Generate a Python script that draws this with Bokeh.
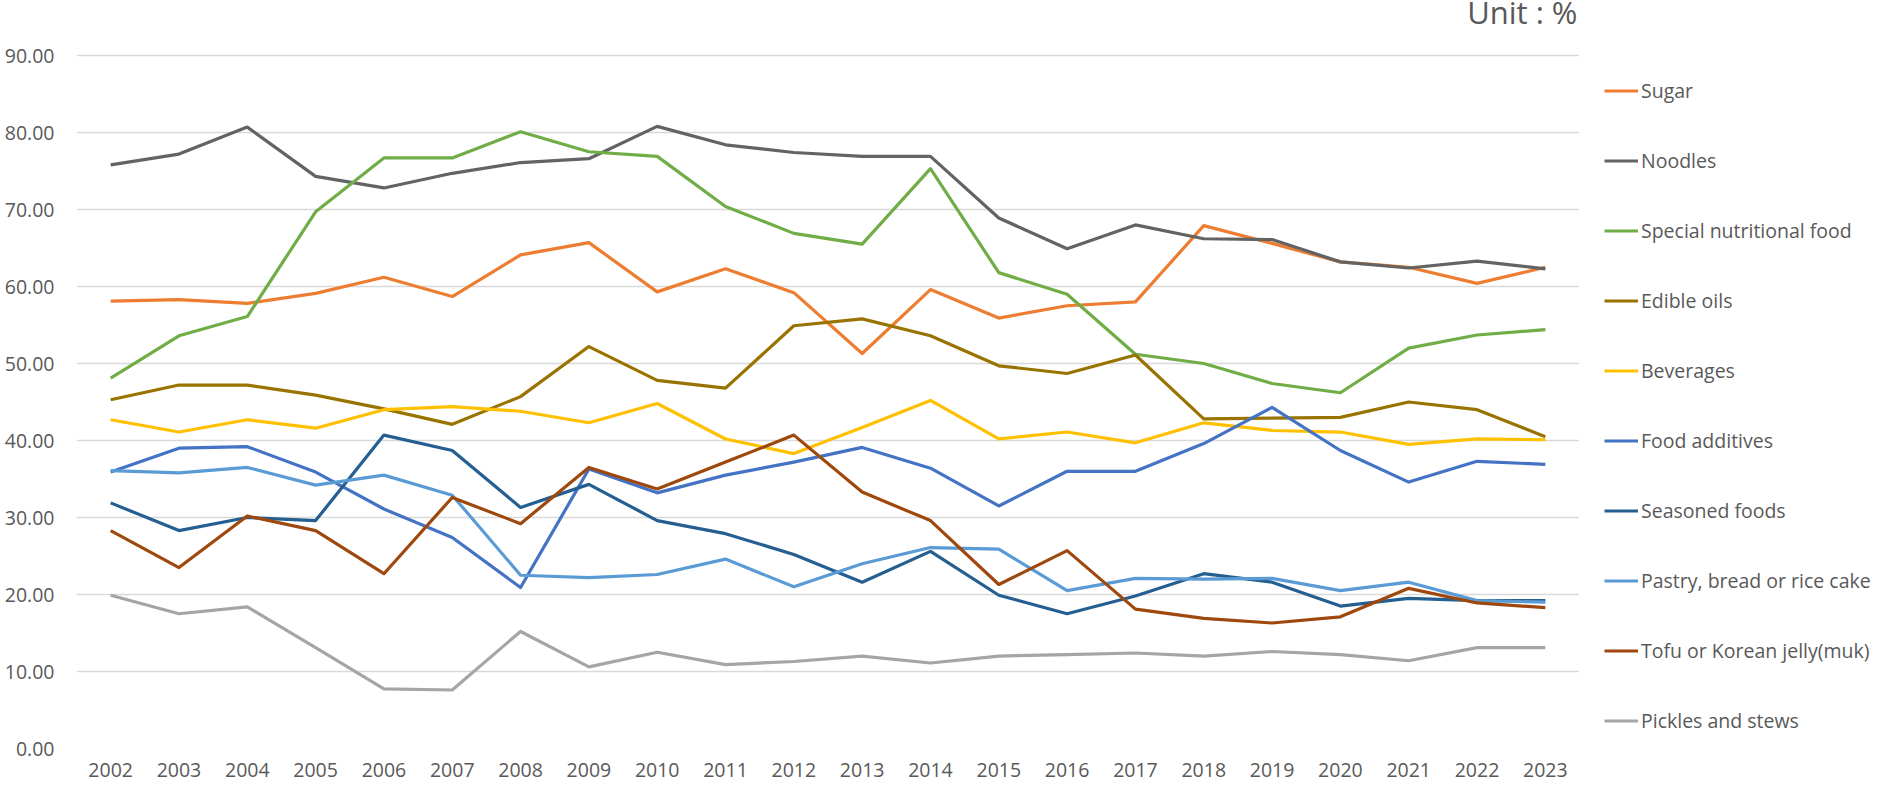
from bokeh.plotting import figure
from bokeh.layouts import row
from bokeh.models import (FactorRange, FixedTicker, NumeralTickFormatter, Legend,
                          LegendItem, Label, Range1d)
from bokeh.embed import file_html
from bokeh.resources import INLINE

years = [str(y) for y in range(2002, 2024)]

sugar = [58.1, 58.3, 57.8, 59.1, 61.2, 58.7, 64.1, 65.7, 59.3, 62.3, 59.2, 51.3,
         59.6, 55.9, 57.5, 58.0, 67.9, 65.6, 63.2, 62.5, 60.4, 62.5]
noodles = [75.8, 77.2, 80.7, 74.3, 72.8, 74.7, 76.1, 76.6, 80.8, 78.4, 77.4, 76.9,
           76.9, 68.9, 64.9, 68.0, 66.2, 66.1, 63.2, 62.4, 63.3, 62.3]
special = [48.1, 53.6, 56.1, 69.7, 76.7, 76.7, 80.1, 77.5, 76.9, 70.4, 66.9, 65.5,
           75.3, 61.8, 59.0, 51.2, 50.0, 47.4, 46.2, 52.0, 53.7, 54.4]
edible_oils = [45.3, 47.2, 47.2, 45.9, 44.1, 42.1, 45.7, 52.2, 47.8, 46.8, 54.9, 55.8,
               53.6, 49.7, 48.7, 51.1, 42.8, 42.9, 43.0, 45.0, 44.0, 40.5]
beverages = [42.7, 41.1, 42.7, 41.6, 44.0, 44.4, 43.8, 42.3, 44.8, 40.2, 38.3, 41.7,
             45.2, 40.2, 41.1, 39.7, 42.3, 41.3, 41.1, 39.5, 40.2, 40.1]
food_additives = [35.9, 39.0, 39.2, 35.9, 31.1, 27.4, 20.9, 36.3, 33.2, 35.5, 37.2, 39.1,
                  36.4, 31.5, 36.0, 36.0, 39.6, 44.3, 38.7, 34.6, 37.3, 36.9]
seasoned = [31.9, 28.3, 30.0, 29.6, 40.7, 38.7, 31.3, 34.3, 29.6, 27.9, 25.2, 21.6,
            25.6, 19.9, 17.5, 19.8, 22.7, 21.6, 18.5, 19.5, 19.2, 19.2]
pastry = [36.1, 35.8, 36.5, 34.2, 35.5, 32.9, 22.5, 22.2, 22.6, 24.6, 21.0, 24.0,
          26.1, 25.9, 20.5, 22.1, 22.0, 22.1, 20.5, 21.6, 19.2, 19.0]
tofu = [28.3, 23.5, 30.2, 28.3, 22.7, 32.6, 29.2, 36.5, 33.7, 37.2, 40.7, 33.3,
        29.6, 21.3, 25.7, 18.1, 16.9, 16.3, 17.1, 20.8, 18.9, 18.3]
pickles = [19.9, 17.5, 18.4, 13.1, 7.75, 7.6, 15.2, 10.6, 12.5, 10.9, 11.3, 12.0,
           11.1, 12.0, 12.2, 12.4, 12.0, 12.6, 12.2, 11.4, 13.1, 13.1]

series_names = ["Sugar", "Noodles", "Special nutritional food", "Edible oils", "Beverages",
                "Food additives", "Seasoned foods", "Pastry, bread or rice cake",
                "Tofu or Korean jelly(muk)", "Pickles and stews"]
series_values = [sugar, noodles, special, edible_oils, beverages, food_additives,
                 seasoned, pastry, tofu, pickles]
series_colors = ["#ED7D31", "#636363", "#70AD47", "#997300", "#FFC000", "#4472C4",
                 "#255E91", "#5B9BD5", "#9E480E", "#A5A5A5"]
y_ticks = [0, 10, 20, 30, 40, 50, 60, 70, 80, 90]

FONT = "Open Sans"
TXT = "#595959"
FS = "19.5px"
LW = 3.2

TOTAL_H = 787
BOTTOM = 39
FRAME_H = TOTAL_H - BOTTOM      # frame spans from the very top of the canvas
PX_PER_UNIT = 7.7               # 90 units -> 693 px
Y_END = FRAME_H / PX_PER_UNIT

p = figure(width=1579, height=TOTAL_H, output_backend="svg", toolbar_location=None,
           title=None,
           x_range=FactorRange(factors=years, range_padding=0),
           y_range=Range1d(0, Y_END),
           min_border_left=76, min_border_right=0, min_border_top=0,
           min_border_bottom=BOTTOM)
p.outline_line_color = None
p.background_fill_color = "white"
p.border_fill_color = "white"

p.xgrid.grid_line_color = None
p.ygrid.grid_line_color = "#D9D9D9"
p.ygrid.grid_line_width = 1.3
p.yaxis.ticker = FixedTicker(ticks=y_ticks)
p.yaxis.formatter = NumeralTickFormatter(format="0.00")

for ax in (p.xaxis[0], p.yaxis[0]):
    ax.axis_line_color = None
    ax.major_tick_line_color = None
    ax.minor_tick_line_color = None
    ax.major_tick_out = 0
    ax.major_tick_in = 0
    ax.major_label_text_font = FONT
    ax.major_label_text_font_size = FS
    ax.major_label_text_color = TXT
p.yaxis.major_label_standoff = 22
p.xaxis.major_label_standoff = 14
p.xaxis.major_label_text_line_height = 0.7

for name, vals, col in zip(series_names, series_values, series_colors):
    p.line(years, vals, line_color=col, line_width=LW, line_join="round")

unit = Label(x=1501, y=Y_END - 11.5 / PX_PER_UNIT, x_units="screen", y_units="data",
             text="Unit : %", text_align="right", text_baseline="alphabetic",
             text_font=FONT, text_font_size="31px", text_color=TXT)
p.add_layout(unit)

# legend panel to the right of the chart (its frame is aligned with the chart's)
lg = figure(width=300, height=TOTAL_H, output_backend="svg", toolbar_location=None,
            title=None,
            x_range=Range1d(0, 1), y_range=Range1d(1000, 1001),
            x_axis_type=None, y_axis_type=None,
            min_border_left=0, min_border_right=0, min_border_bottom=BOTTOM,
            min_border_top=0)
lg.outline_line_color = None
lg.xgrid.visible = False
lg.ygrid.visible = False
lg.background_fill_color = "white"
lg.border_fill_color = "white"

items = []
for name, vals, col in zip(series_names, series_values, series_colors):
    # proxy renderers (outside the visible range) that only provide legend swatches
    r = lg.line(x=list(range(len(vals))), y=vals, line_color=col, line_width=LW)
    items.append(LegendItem(label=name, renderers=[r]))

ITEM_H = 27
SPACING = 43
LEGEND_TOP = 77
legend_h = len(items) * ITEM_H + (len(items) - 1) * SPACING
legend = Legend(items=items, location=(25, FRAME_H - LEGEND_TOP - legend_h),
                orientation="vertical",
                margin=0, padding=0, spacing=SPACING, glyph_width=34,
                glyph_height=ITEM_H, label_height=ITEM_H, label_standoff=3,
                border_line_color=None, background_fill_alpha=0,
                label_text_font=FONT, label_text_font_size=FS,
                label_text_color=TXT, label_text_baseline="middle")
lg.add_layout(legend, "center")

layout = row(p, lg, spacing=0)
open("out.html", "w").write(file_html(layout, INLINE))
